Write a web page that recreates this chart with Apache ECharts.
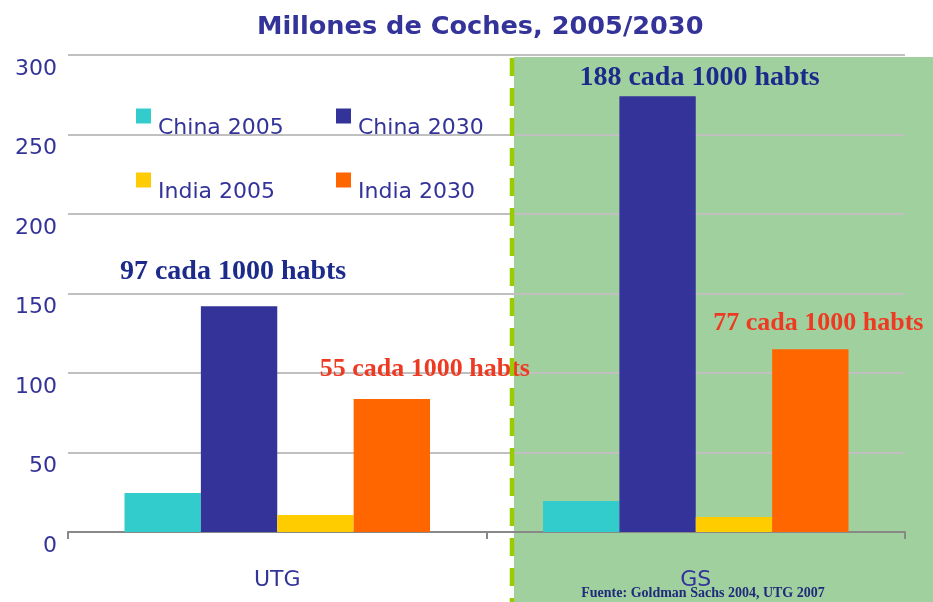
<!DOCTYPE html>
<html lang="es">
<head>
	<meta charset="UTF-8">
	<title>Millones de Coches</title>
	<script src="https://cdn.jsdelivr.net/npm/echarts@6/dist/echarts.min.js"></script>
	<style>
		html, body { margin: 0; padding: 0; background: #fff; }
	</style>
</head>
<body>
	<div id="main" style="width: 933px;height: 602px"></div>
	<script>
	// fuentes de la prevision
	var categories = ['UTG', 'GS'];
	var seriesNames = ['China 2005', 'China 2030', 'India 2005', 'India 2030'];
	var china2005 = [24.5, 19.5];
	var china2030 = [142, 274];
	var india2005 = [10.7, 9.4];
	var india2030 = [83.6, 115];
	// coches cada 1000 habitantes en 2030
	var chinaNotes = ['97 cada 1000 habts', '188 cada 1000 habts'];
	var indiaNotes = ['55 cada 1000 habts', '77 cada 1000 habts'];
	var yTicks = [0, 50, 100, 150, 200, 250, 300];

	var colors = ['#33cccc', '#333399', '#ffcc00', '#ff6600'];
	var navy = '#333399';

	function withNotes(values, notes, color, size, offsets) {
		return values.map(function (v, i) {
			return {
				value: v,
				label: {
					show: true,
					position: 'top',
					distance: 5,
					offset: offsets[i],
					formatter: notes[i],
					color: color,
					fontFamily: '"Liberation Serif", "Times New Roman", serif',
					fontWeight: 'bold',
					fontSize: size
				}
			};
		});
	}

	// texto un poco por debajo del cuadrado, como en el original
	function legendItem(name, left, top) {
		return {
			data: [name],
			left: left,
			top: top,
			icon: 'rect',
			itemWidth: 15,
			itemHeight: 15,
			selectedMode: false,
			formatter: function (n) { return '\n' + n; },
			textStyle: {
				color: navy,
				fontFamily: '"DejaVu Sans", Verdana, sans-serif',
				fontSize: 22,
				lineHeight: 24,
				padding: [0, 0, 0, 2]
			}
		};
	}

	var option = {
		backgroundColor: '#ffffff',
		animation: false,
		color: colors,
		title: {
			text: 'Millones de Coches, 2005/2030',
			left: 252,
			top: 9,
			textStyle: {
				color: navy,
				fontFamily: '"DejaVu Sans", Verdana, sans-serif',
				fontWeight: 'bold',
				fontSize: 25.6
			}
		},
		legend: [
			legendItem(seriesNames[0], 131, 87),
			legendItem(seriesNames[1], 331, 87),
			legendItem(seriesNames[2], 131, 151),
			legendItem(seriesNames[3], 331, 151)
		],
		graphic: [
			{	// zona GS
				type: 'rect',
				z: -10,
				shape: { x: 514, y: 57, width: 419, height: 545 },
				style: { fill: '#a1d09f' }
			},
			{
				type: 'line',
				z: 100,
				shape: { x1: 512, y1: 58, x2: 512, y2: 602 },
				style: { stroke: '#99cc00', lineWidth: 4.5, lineDash: [18, 12] }
			},
			{
				type: 'text',
				z: 100,
				style: {
					text: 'Fuente: Goldman Sachs 2004, UTG 2007',
					x: 703, y: 593,
					align: 'center', verticalAlign: 'middle',
					fill: '#1f2b7a',
					font: 'bold 14px "Liberation Serif", "Times New Roman", serif'
				}
			}
		],
		grid: {
			left: 68,
			right: 28,
			top: 55,
			bottom: 70,
			containLabel: false
		},
		xAxis: {
			type: 'category',
			data: categories,
			axisLine: { lineStyle: { color: '#888888', width: 2 } },
			axisTick: { show: true, length: 7, lineStyle: { color: '#888888', width: 2 } },
			axisLabel: {
				margin: 37,
				color: navy,
				fontFamily: '"DejaVu Sans", Verdana, sans-serif',
				fontSize: 22
			}
		},
		yAxis: {
			type: 'value',
			min: yTicks[0],
			max: yTicks[yTicks.length - 1],
			interval: 50,
			axisLine: { show: false },
			axisTick: { show: false },
			splitLine: { lineStyle: { color: '#c0c0c0', width: 2 } },
			axisLabel: {
				margin: 11,
				verticalAlign: 'top',
				padding: [3, 0, 0, 0],
				color: navy,
				fontFamily: '"DejaVu Sans", Verdana, sans-serif',
				fontSize: 22
			}
		},
		series: [
			{
				name: seriesNames[0], type: 'bar',
				barGap: '0%', barCategoryGap: '27%',
				data: china2005
			},
			{
				name: seriesNames[1], type: 'bar',
				barGap: '0%', barCategoryGap: '27%',
				data: withNotes(china2030, chinaNotes, '#1c2a8c', 28, [[-6, -15], [42, 0]])
			},
			{
				name: seriesNames[2], type: 'bar',
				barGap: '0%', barCategoryGap: '27%',
				data: india2005
			},
			{
				name: seriesNames[3], type: 'bar',
				barGap: '0%', barCategoryGap: '27%',
				data: withNotes(india2030, indiaNotes, '#ee3a22', 26, [[33, -12], [8, -8]])
			}
		]
	};

	var myChart = echarts.init(document.getElementById('main'));
	myChart.setOption(option);
	</script>
</body>
</html>
